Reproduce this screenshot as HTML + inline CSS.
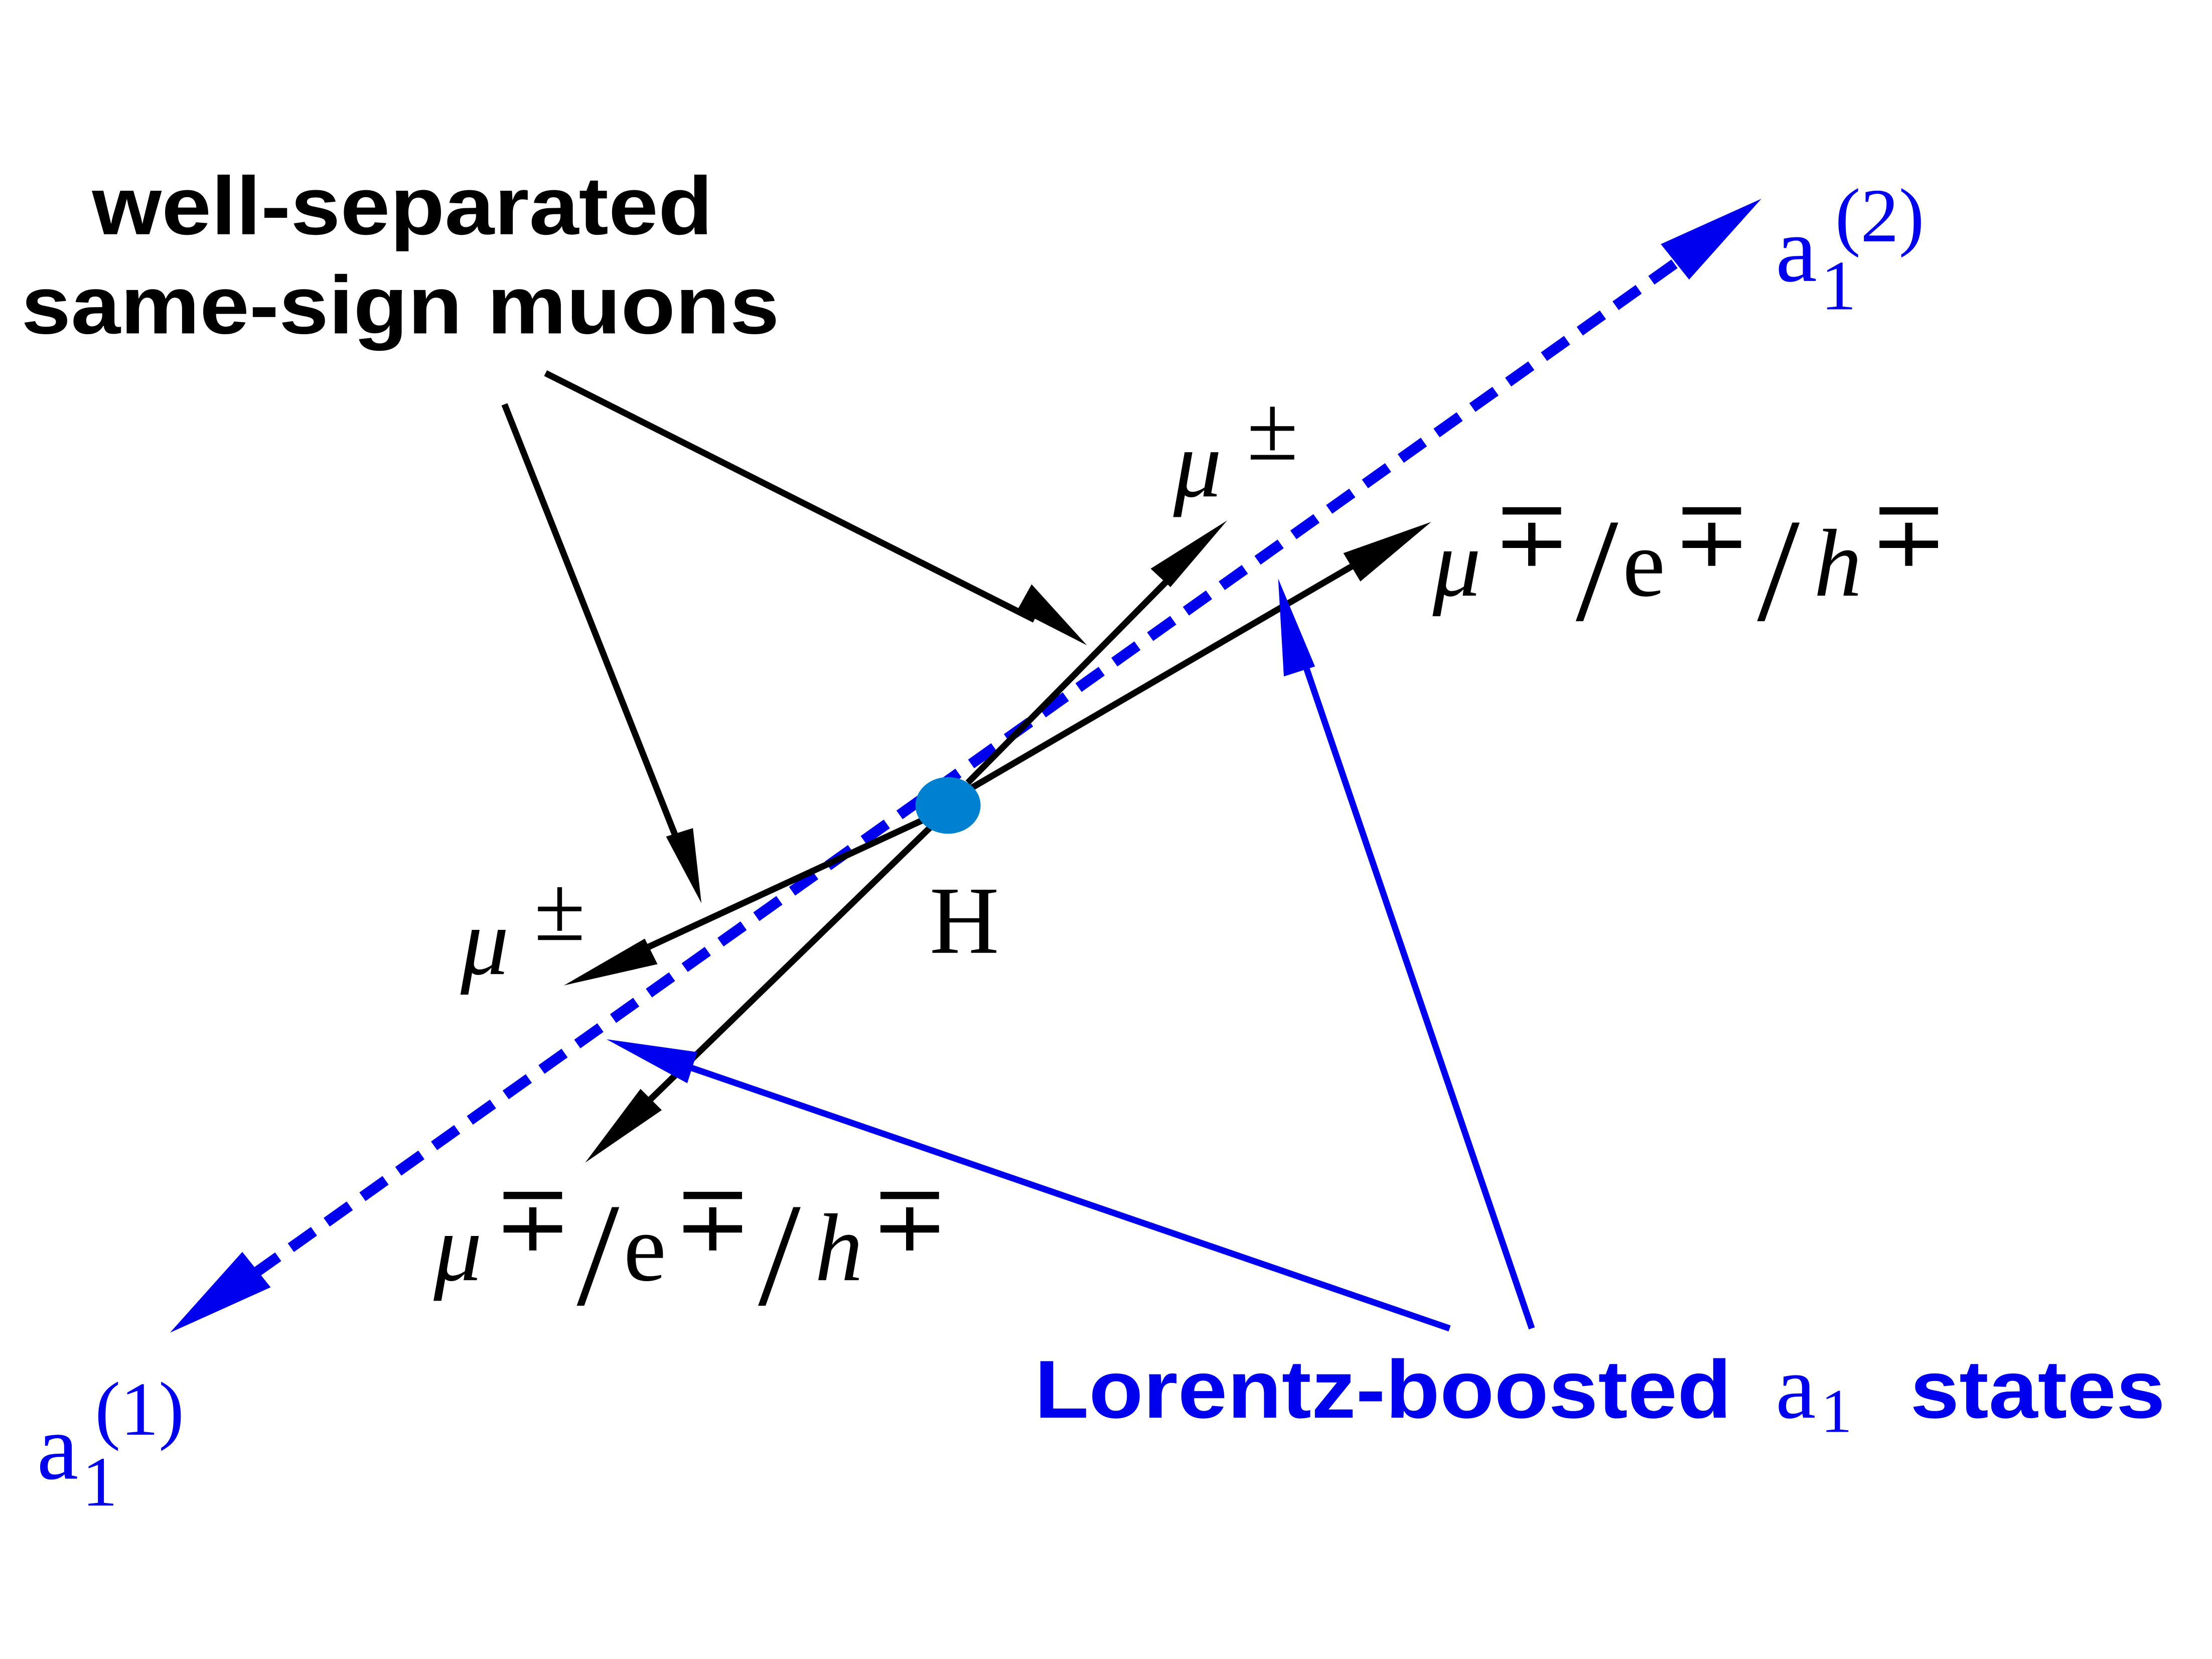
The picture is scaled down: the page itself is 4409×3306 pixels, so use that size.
<!DOCTYPE html>
<html><head><meta charset="utf-8"><style>html,body{margin:0;padding:0;background:#fff}svg{display:block}</style></head>
<body>
<svg width="4409" height="3306" viewBox="0 0 1561 1170" xmlns="http://www.w3.org/2000/svg">
<rect width="1561" height="1170" fill="#fff"/>
<line x1="180" y1="898" x2="1190" y2="180" stroke="#0000ee" stroke-width="7.5" stroke-dasharray="20,11"/>
<polygon points="1243,140 1172,172 1192,197" fill="#0000ee"/>
<polygon points="120,940 191,908 171,883" fill="#0000ee"/>
<g stroke="#000" stroke-width="4.5" fill="none">
<line x1="385" y1="263" x2="730" y2="437"/>
<line x1="356" y1="285" x2="482" y2="603"/>
<line x1="683" y1="552" x2="835" y2="398"/>
<line x1="685" y1="556" x2="970" y2="390"/>
<line x1="652" y1="578" x2="440" y2="676"/>
<line x1="657" y1="583" x2="445" y2="789"/>
</g>
<g fill="#000">
<polygon points="767,455 718,430 728,412"/>
<polygon points="495,637 470,590 489,584"/>
<polygon points="866,367 826,414 812,401"/>
<polygon points="1010,368 960,410 948,390"/>
<polygon points="398,695 455,662 464,680"/>
<polygon points="413,820 452,768 467,783"/>
</g>
<g stroke="#0000ee" stroke-width="4.5">
<line x1="1023" y1="937" x2="470" y2="747"/>
<line x1="1081" y1="937" x2="914" y2="448"/>
</g>
<g fill="#0000ee">
<polygon points="428,733 492,742 485,764"/>
<polygon points="902,408 928,470 906,477"/>
</g>
<ellipse cx="669" cy="568" rx="23" ry="20" fill="#0080d0"/>
<g font-family="Liberation Sans, sans-serif" font-weight="bold" font-size="58" fill="#000">
<text x="65" y="165" textLength="438" lengthAdjust="spacingAndGlyphs">well-separated</text>
<text x="15" y="235" textLength="535" lengthAdjust="spacingAndGlyphs">same-sign muons</text>
</g>
<g font-family="Liberation Serif, DejaVu Serif, serif" font-size="68" fill="#000">
<text x="828" y="350" font-style="italic">μ</text>
<text x="898" y="324" font-size="66" text-anchor="middle">±</text>
<text x="325" y="687" font-style="italic">μ</text>
<text x="395" y="663" font-size="66" text-anchor="middle">±</text>
<text x="656" y="672">H</text>
</g>
<g font-family="Liberation Serif, DejaVu Serif, serif" font-size="68" fill="#000">
<text x="1011" y="420" font-style="italic">μ</text>
<text x="1081" y="399" font-size="66" text-anchor="middle">∓</text>
<text x="1112" y="437" font-size="104" textLength="30" lengthAdjust="spacingAndGlyphs">/</text>
<text x="1145" y="420">e</text>
<text x="1208" y="399" font-size="66" text-anchor="middle">∓</text>
<text x="1240" y="437" font-size="104" textLength="30" lengthAdjust="spacingAndGlyphs">/</text>
<text x="1280" y="420" font-style="italic">h</text>
<text x="1347" y="399" font-size="66" text-anchor="middle">∓</text>
<text x="306" y="903" font-style="italic">μ</text>
<text x="376" y="882" font-size="66" text-anchor="middle">∓</text>
<text x="407" y="920" font-size="104" textLength="30" lengthAdjust="spacingAndGlyphs">/</text>
<text x="440" y="903">e</text>
<text x="503" y="882" font-size="66" text-anchor="middle">∓</text>
<text x="535" y="920" font-size="104" textLength="30" lengthAdjust="spacingAndGlyphs">/</text>
<text x="575" y="903" font-style="italic">h</text>
<text x="642" y="882" font-size="66" text-anchor="middle">∓</text>
</g>
<g font-family="Liberation Serif, serif" fill="#0000ee">
<text x="1253" y="198" font-size="66">a</text>
<text x="1285" y="218" font-size="50">1</text>
<text x="1295" y="170" font-size="54">(2)</text>
<text x="26" y="1043" font-size="66">a</text>
<text x="58" y="1062" font-size="50">1</text>
<text x="67" y="1012" font-size="54">(1)</text>
<text x="1253" y="1000" font-size="64">a</text>
<text x="1285" y="1010" font-size="44">1</text>
</g>
<g font-family="Liberation Sans, sans-serif" font-weight="bold" font-size="58" fill="#0000ee">
<text x="730" y="1000" textLength="492" lengthAdjust="spacingAndGlyphs">Lorentz-boosted</text>
<text x="1348" y="1000" textLength="180" lengthAdjust="spacingAndGlyphs">states</text>
</g>
</svg>
</body></html>
